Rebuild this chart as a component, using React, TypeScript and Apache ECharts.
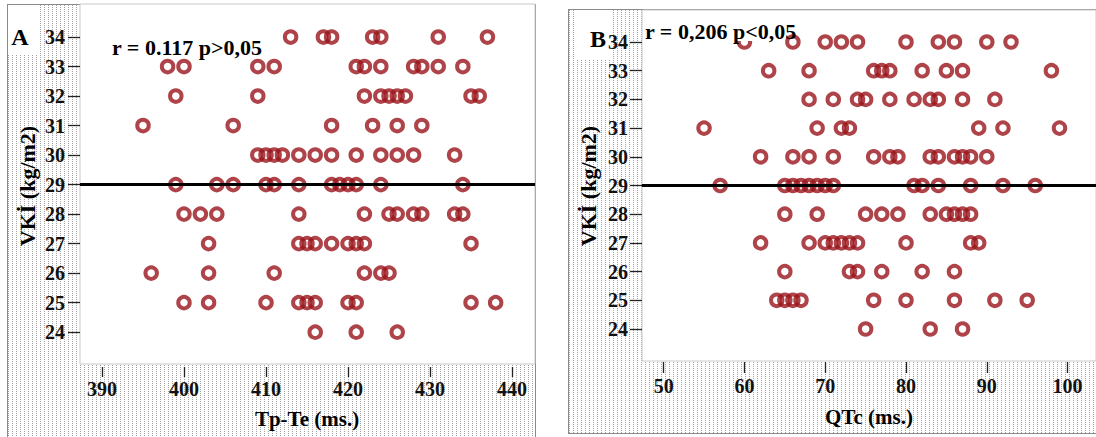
import { useEffect, useRef } from "react";
import * as echarts from "echarts";

// ---------- tick values ----------
const bmiTicks = [24, 25, 26, 27, 28, 29, 30, 31, 32, 33, 34];
const tpTeTicks = [390, 400, 410, 420, 430, 440];
const qtcTicks = [50, 60, 70, 80, 90, 100];
const refBmi = 29;

// ---------- Panel A: Tp-Te (ms.) per BMI row ----------
const tpTe34 = [413, 417, 418, 423, 424, 431, 437];
const tpTe33 = [398, 400, 409, 411, 421, 422, 424, 428, 429, 431, 434];
const tpTe32 = [399, 409, 422, 424, 425, 426, 427, 435, 436];
const tpTe31 = [395, 406, 418, 423, 426, 429];
const tpTe30 = [409, 410, 411, 412, 414, 416, 418, 421, 424, 426, 428, 433];
const tpTe29 = [399, 404, 406, 410, 411, 414, 418, 419, 420, 421, 424, 434];
const tpTe28 = [400, 402, 404, 414, 422, 425, 426, 428, 429, 433, 434];
const tpTe27 = [403, 414, 415, 416, 418, 420, 421, 422, 435];
const tpTe26 = [396, 403, 411, 422, 424, 425];
const tpTe25 = [400, 403, 410, 414, 415, 416, 420, 421, 435, 438];
const tpTe24 = [416, 421, 426];

// ---------- Panel B: QTc (ms.) per BMI row ----------
const qtc34 = [60, 66, 70, 72, 74, 80, 84, 86, 90, 93];
const qtc33 = [63, 68, 76, 77, 78, 82, 85, 87, 98];
const qtc32 = [68, 71, 74, 75, 78, 81, 83, 84, 87, 91];
const qtc31 = [55, 69, 72, 73, 89, 92, 99];
const qtc30 = [62, 66, 68, 71, 76, 78, 79, 83, 84, 86, 87, 88, 90];
const qtc29 = [57, 65, 66, 67, 68, 69, 70, 71, 81, 82, 84, 88, 92, 96];
const qtc28 = [65, 69, 75, 77, 79, 83, 85, 86, 87, 88];
const qtc27 = [62, 68, 70, 71, 72, 73, 74, 80, 88, 89];
const qtc26 = [65, 73, 74, 77, 82, 86];
const qtc25 = [64, 65, 66, 67, 76, 80, 86, 91, 95];
const qtc24 = [75, 83, 87];

const tpTeRows: [number, number[]][] = [
  [34, tpTe34], [33, tpTe33], [32, tpTe32], [31, tpTe31], [30, tpTe30], [29, tpTe29],
  [28, tpTe28], [27, tpTe27], [26, tpTe26], [25, tpTe25], [24, tpTe24],
];
const qtcRows: [number, number[]][] = [
  [34, qtc34], [33, qtc33], [32, qtc32], [31, qtc31], [30, qtc30], [29, qtc29],
  [28, qtc28], [27, qtc27], [26, qtc26], [25, qtc25], [24, qtc24],
];

const toPoints = (rows: [number, number[]][]) =>
  rows.flatMap(([y, xs]) => xs.map((x) => [x, y]));

const FONT = '"Liberation Serif", "Times New Roman", serif';
const MARK = "#9a151b";

const dotted: React.CSSProperties = {
  position: "absolute",
  boxSizing: "border-box",
  backgroundColor: "#fff",
  backgroundImage:
    "repeating-linear-gradient(to bottom, transparent 0 1px, #fff 1px 2px), repeating-linear-gradient(to right, #a3a3a3 0 1px, transparent 1px 4px)",
  border: "1px solid #8a8a8a",
};

export default function App() {
  const ref = useRef<HTMLDivElement>(null);

  useEffect(() => {
    if (!ref.current) return;
    const chart = echarts.init(ref.current, undefined, { renderer: "svg" });

    const axisLabel = (vals: number[], margin: number) => ({
      customValues: vals,
      margin,
      fontSize: 20,
      fontWeight: "bold" as const,
      fontFamily: FONT,
      color: "#111",
    });
    const axisTick = (vals: number[], length: number) => ({
      show: true,
      customValues: vals,
      length,
      lineStyle: { color: "#222", width: 1.3 },
    });
    const scatter = (idx: number, rows: [number, number[]][]) => ({
      type: "scatter",
      xAxisIndex: idx,
      yAxisIndex: idx,
      data: toPoints(rows),
      symbol: "circle",
      symbolSize: 11.5,
      itemStyle: { color: "rgba(0,0,0,0)", borderColor: MARK, borderWidth: 4 },
      emphasis: { disabled: true },
      markLine: {
        silent: true,
        symbol: ["none", "none"],
        label: { show: false },
        lineStyle: { color: "#000", width: 3, type: "solid" },
        data: [{ yAxis: refBmi }],
      },
      z: 3,
    });

    const txt = (
      text: string,
      x: number,
      y: number,
      size: number,
      extra: any = {}
    ) => ({
      type: "text",
      z: 100,
      x,
      y,
      rotation: extra.rotation || 0,
      style: {
        text,
        font: `bold ${size}px ${FONT}`,
        fill: "#000",
        align: extra.align || "center",
        verticalAlign: "middle",
      },
    });

    chart.setOption({
      animation: false,
      grid: [
        {
          left: 80, top: 4, width: 455, height: 360, show: true,
          backgroundColor: "#fff", borderColor: "#c8c8c8", borderWidth: 1,
        },
        {
          left: 642, top: 10, width: 462, height: 351, show: true,
          backgroundColor: "#fff", borderColor: "#c8c8c8", borderWidth: 1,
        },
      ],
      xAxis: [
        {
          type: "value", gridIndex: 0, min: 387.32, max: 442.8, offset: 3,
          axisLine: { show: false }, splitLine: { show: false },
          axisTick: axisTick(tpTeTicks, 10), axisLabel: axisLabel(tpTeTicks, 12),
        },
        {
          type: "value", gridIndex: 1, min: 47.32, max: 103.52, offset: 1,
          axisLine: { show: false }, splitLine: { show: false },
          axisTick: axisTick(qtcTicks, 11), axisLabel: axisLabel(qtcTicks, 14),
        },
      ],
      yAxis: [
        {
          type: "value", gridIndex: 0, min: 22.92, max: 35.12,
          axisLine: { show: false }, splitLine: { show: false },
          axisTick: axisTick(bmiTicks, 12), axisLabel: axisLabel(bmiTicks, 15),
        },
        {
          type: "value", gridIndex: 1, min: 22.885, max: 35.115,
          axisLine: { show: false }, splitLine: { show: false },
          axisTick: axisTick(bmiTicks, 12), axisLabel: axisLabel(bmiTicks, 14),
        },
      ],
      series: [scatter(0, tpTeRows), scatter(1, qtcRows)],
      graphic: [
        { type: "rect", z: 99, shape: { x: 643, y: 21, width: 141, height: 20 }, style: { fill: "#fff" } },
        txt("A", 20, 37, 24),
        txt("B", 598, 39, 24),
        txt("r = 0.117 p>0,05", 112, 47, 22, { align: "left" }),
        txt("r = 0,206 p<0,05", 645, 31, 22, { align: "left" }),
        txt("VKİ (kg/m2)", 27, 186, 22, { rotation: Math.PI / 2 }),
        txt("VKİ (kg/m2)", 588, 186, 22, { rotation: Math.PI / 2 }),
        txt("Tp-Te (ms.)", 307, 419, 21),
        txt("QTc (ms.)", 869, 417, 21),
      ],
    });

    return () => chart.dispose();
  }, []);

  return (
    <div
      style={{
        position: "absolute", left: 0, top: 0, width: 1096, height: 437,
        overflow: "hidden", background: "#fff",
      }}
    >
      <div style={{ ...dotted, left: 7, top: 4, width: 529, height: 450 }} />
      <div style={{ ...dotted, left: 568, top: 9, width: 560, height: 425 }} />
      <div style={{ position: "absolute", left: 8, top: 5, width: 32, height: 50, background: "#fff" }} />
      <div style={{ position: "absolute", left: 576, top: 10, width: 34, height: 50, background: "#fff" }} />
      <div ref={ref} style={{ position: "absolute", left: 0, top: 0, width: 1096, height: 437 }} />
    </div>
  );
}
